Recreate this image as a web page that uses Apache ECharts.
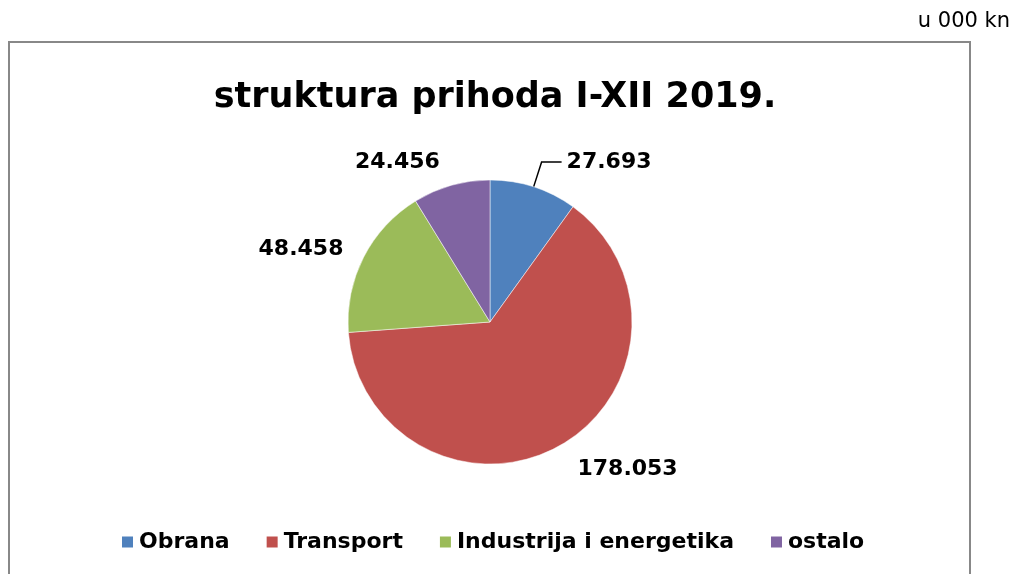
<!DOCTYPE html>
<html>
<head>
<meta charset="utf-8">
<script src="https://cdn.jsdelivr.net/npm/echarts@6/dist/echarts.min.js"></script>
<style>
  html, body { margin: 0; padding: 0; background: #fff; }
  #chart { width: 1014px; height: 574px; }
</style>
</head>
<body>
<div id="chart"></div>
<script>
// prihodi u 000 kn
const categories = ['Obrana', 'Transport', 'Industrija i energetika', 'ostalo'];
const values = [27693, 178053, 48458, 24456];
const colors = ['#4F81BD', '#C0504D', '#9BBB59', '#8064A2'];

// duljine linija za oznake (samo Obrana ima vidljivu liniju)
const lineLen = [26, 27, 17, 24];
const lineLen2 = [20, 0, 0, 0];

const fmt = v => {
    // 27693 -> 27.693
    const s = String(v);
    return s.slice(0, s.length - 3) + '.' + s.slice(s.length - 3);
};

const chart = echarts.init(document.getElementById('chart'));

const pieData = categories.map((name, i) => ({
    name: name,
    value: values[i],
    itemStyle: { color: colors[i] },
    labelLine: { show: i === 0, length: lineLen[i], length2: lineLen2[i] }
}));

chart.setOption({
    animation: false,
    graphic: [{
        type: 'rect',
        shape: { x: 9, y: 42, width: 961, height: 560 },
        style: { fill: 'none', stroke: '#888', lineWidth: 2 }
    }, {
        type: 'text',
        right: 4,
        top: 11,
        style: {
            text: 'u 000 kn',
            font: '21px "DejaVu Sans"',
            fill: '#000'
        }
    }],
    title: {
        text: 'struktura prihoda I-XII 2019.',
        left: 490,
        textAlign: 'center',
        top: 75,
        textStyle: {
            fontFamily: 'DejaVu Sans',
            fontWeight: 'bold',
            fontSize: 35,
            color: '#000'
        }
    },
    legend: {
        left: 115,
        top: 526,
        itemWidth: 13,
        itemHeight: 13,
        itemGap: 35,
        icon: 'rect',
        data: categories,
        textStyle: {
            fontFamily: 'DejaVu Sans',
            fontWeight: 'bold',
            fontSize: 22,
            color: '#000'
        }
    },
    series: [{
        type: 'pie',
        center: [490, 322],
        radius: 142,
        startAngle: 90,
        clockwise: true,
        data: pieData,
        itemStyle: { borderColor: '#fff', borderWidth: 0.5 },
        label: {
            show: true,
            position: 'outside',
            formatter: p => fmt(p.value),
            fontFamily: 'DejaVu Sans',
            fontWeight: 'bold',
            fontSize: 22,
            color: '#000'
        },
        labelLine: {
            lineStyle: { color: '#000', width: 1.5 }
        },
        emphasis: { disabled: true }
    }]
});
</script>
</body>
</html>
